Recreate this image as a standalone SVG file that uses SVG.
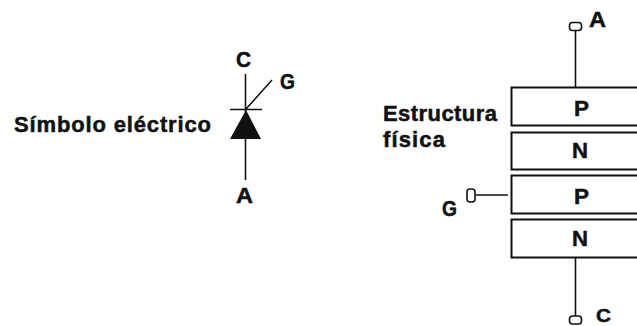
<svg xmlns="http://www.w3.org/2000/svg" width="637" height="326" viewBox="0 0 637 326">
<style>
text{font-family:"Liberation Sans",Arial,sans-serif;font-weight:700;fill:#111;stroke:#111;stroke-width:.5;font-size:22px}
.l{stroke:#111;stroke-width:1.6;fill:none}
.b{stroke:#111;stroke-width:2;fill:#fff}
.o{stroke:#111;stroke-width:1.6;fill:#fff}
</style>
<rect width="637" height="326" fill="#fff"/>
<g id="connectors">
<path class="l" d="M245.500 74V180M230 109.500H262M246 109L272 80"/>
<path class="l" d="M575.500 30V87M575.500 258V316M476 195H508"/>
</g>
<g id="symbol">
<polygon points="246,110 261,139 230,139" fill="#111"/>
<text x="14" y="132" textLength="197" lengthAdjust="spacing">Símbolo eléctrico</text>
<text x="236" y="67" textLength="15" lengthAdjust="spacingAndGlyphs">C</text>
<text x="280" y="89" textLength="15" lengthAdjust="spacingAndGlyphs">G</text>
<text x="236" y="203" textLength="17" lengthAdjust="spacingAndGlyphs">A</text>
</g>
<g id="layer-p1"><rect class="b" x="511.500" y="87.500" width="140" height="38"/><text x="574" y="116" textLength="15" lengthAdjust="spacingAndGlyphs">P</text></g>
<g id="layer-n1"><rect class="b" x="511.500" y="132.500" width="140" height="37"/><text x="572" y="158" textLength="16" lengthAdjust="spacingAndGlyphs">N</text></g>
<g id="layer-p2"><rect class="b" x="511.500" y="175.500" width="140" height="38"/><text x="574" y="204" textLength="15" lengthAdjust="spacingAndGlyphs">P</text></g>
<g id="layer-n2"><rect class="b" x="511.500" y="219.500" width="140" height="38"/><text x="572" y="246" textLength="16" lengthAdjust="spacingAndGlyphs">N</text></g>
<g id="terminal-a"><rect class="o" x="569.500" y="22.500" width="12" height="8" rx="3"/><text x="589" y="27" textLength="17" lengthAdjust="spacingAndGlyphs">A</text></g>
<g id="terminal-g"><rect class="o" x="467" y="189" width="8" height="13" rx="3"/><text x="442" y="216" textLength="15" lengthAdjust="spacingAndGlyphs">G</text></g>
<g id="terminal-c"><rect class="o" x="569.500" y="316" width="12" height="8" rx="3"/><text x="596" y="322" font-size="19" style="font-size:19px" textLength="15" lengthAdjust="spacingAndGlyphs">C</text></g>
<g id="caption"><text x="383" y="121" textLength="114" lengthAdjust="spacing">Estructura</text><text x="383" y="147" textLength="62" lengthAdjust="spacing">física</text></g>
</svg>
